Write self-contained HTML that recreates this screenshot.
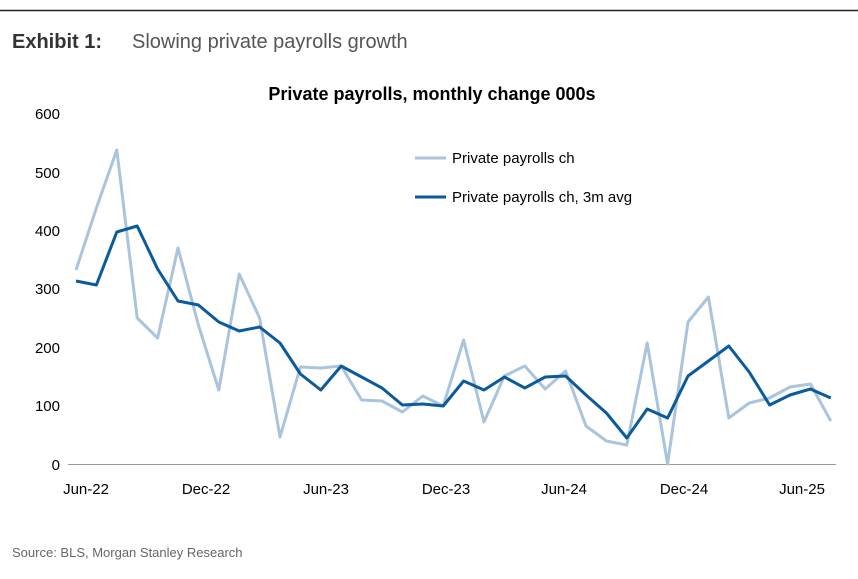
<!DOCTYPE html>
<html><head><meta charset="utf-8"><style>
body{margin:0;background:#fff;font-family:"Liberation Sans",sans-serif;}
svg text{font-family:"Liberation Sans",sans-serif;}
</style></head><body>
<svg width="858" height="574" viewBox="0 0 858 574" xmlns="http://www.w3.org/2000/svg">
<line x1="0" y1="10.5" x2="858" y2="10.5" stroke="#222" stroke-width="1.5"/>
<text x="12" y="48" font-size="20" font-weight="bold" fill="#333">Exhibit 1:</text>
<text x="132" y="48" font-size="20" fill="#555">Slowing private payrolls growth</text>
<text x="432" y="100" font-size="18" font-weight="bold" fill="#000" text-anchor="middle">Private payrolls, monthly change 000s</text>
<g font-size="15" fill="#000" text-anchor="end">
<text x="60" y="119">600</text><text x="60" y="178">500</text><text x="60" y="236">400</text>
<text x="60" y="294">300</text><text x="60" y="353">200</text><text x="60" y="411">100</text><text x="60" y="470">0</text>
</g>
<line x1="68" y1="464.5" x2="836" y2="464.5" stroke="#999" stroke-width="1"/>
<g font-size="15" fill="#000" text-anchor="middle">
<text x="86" y="494">Jun-22</text><text x="206" y="494">Dec-22</text><text x="326" y="494">Jun-23</text>
<text x="446" y="494">Dec-23</text><text x="564" y="494">Jun-24</text><text x="684" y="494">Dec-24</text><text x="802" y="494">Jun-25</text>
</g>
<polyline fill="none" stroke="#a9c4dc" stroke-width="3" stroke-linejoin="round" points="76,270 96.4,208 116.8,150 137.2,318 157.6,338 178,248 198.4,325 218.8,390 239.2,274 259.6,318 280,437 300.4,367 320.8,368 341.2,366 361.6,400 382,401 402.4,412 422.8,396 443.2,406 463.6,340 484,422 504.4,376 524.8,366 545.2,389 565.6,371 586,426 606.4,441 626.8,445 647.2,343 667.6,464 688,322 708.4,297 728.8,418 749.2,403 769.6,398 790,387 810.4,384 830.8,421"/>
<polyline fill="none" stroke="#0b5a9c" stroke-width="3" stroke-linejoin="round" points="76,281 96.4,285 116.8,232 137.2,226 157.6,269 178,301 198.4,305 218.8,322 239.2,331 259.6,327 280,343 300.4,374 320.8,390 341.2,366 361.6,377 382,388 402.4,405 422.8,404 443.2,406 463.6,381 484,390 504.4,377 524.8,388 545.2,377 565.6,376 586,395 606.4,413 626.8,438 647.2,409 667.6,418 688,376 708.4,361 728.8,346 749.2,372 769.6,405 790,395 810.4,389 830.8,398"/>
<line x1="415" y1="158" x2="446" y2="158" stroke="#a9c4dc" stroke-width="3"/>
<text x="452" y="163" font-size="15" fill="#000">Private payrolls ch</text>
<line x1="415" y1="197" x2="446" y2="197" stroke="#0b5a9c" stroke-width="3"/>
<text x="452" y="202" font-size="15" fill="#000">Private payrolls ch, 3m avg</text>
<text x="12" y="557" font-size="13" fill="#666">Source: BLS, Morgan Stanley Research</text>
</svg>
</body></html>
